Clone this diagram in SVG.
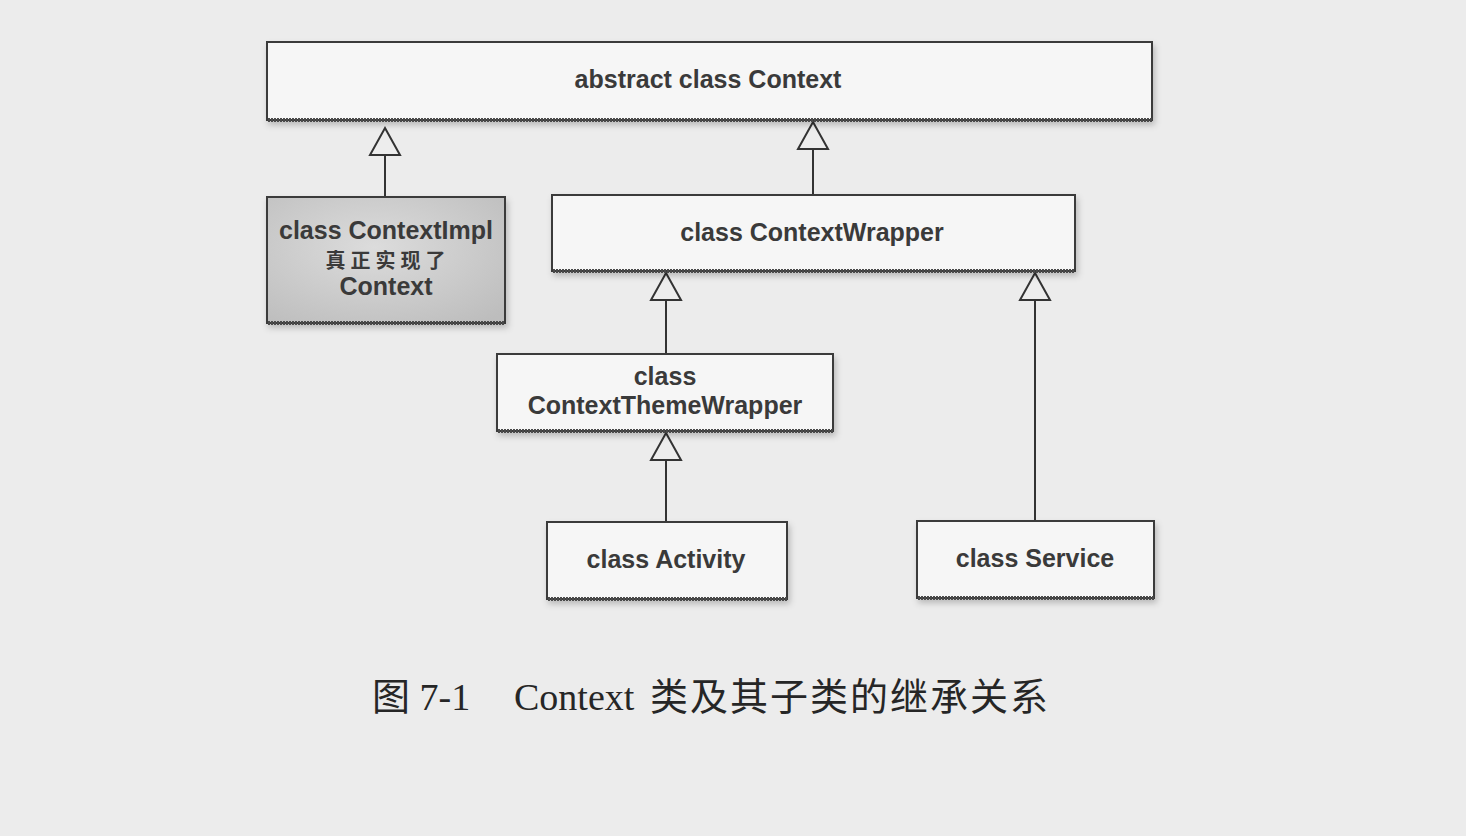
<svg xmlns="http://www.w3.org/2000/svg" width="1466" height="836" viewBox="0 0 1466 836">
  <defs>
    <style>
      .box { fill: #f6f6f6; stroke: #3a3a3a; stroke-width: 2; filter: url(#sh); }
      .impl { fill: url(#implg); stroke: #3a3a3a; stroke-width: 2; filter: url(#sh); }
      .base { stroke: #4a4a4a; stroke-width: 4; stroke-dasharray: 2 1; }
      .lbl { font-family: "Liberation Sans", Arial, "Noto Sans CJK SC", sans-serif; font-weight: bold; font-size: 25px; fill: #3a3a3a; text-anchor: middle; }
      .cjk { font-family: "Noto Sans CJK SC", sans-serif; font-weight: bold; font-size: 20px; fill: #3a3a3a; text-anchor: middle; letter-spacing: 5px; }
      .edge { stroke: #333; stroke-width: 2; fill: none; }
      .tri { fill: #ededed; stroke: #333; stroke-width: 2; stroke-linejoin: miter; }
      .cap { font-family: "Liberation Serif", "Times New Roman", "Noto Sans CJK SC", serif; font-size: 38px; fill: #262626; }
      .capc { font-family: "Noto Sans CJK SC", sans-serif; font-size: 38px; fill: #262626; letter-spacing: 2px; }
    </style>
    <filter id="sh" x="-5%" y="-10%" width="112%" height="130%">
      <feDropShadow dx="2" dy="4" stdDeviation="3" flood-color="#000" flood-opacity="0.22"/>
    </filter>
    <radialGradient id="implg" cx="0.45" cy="0.4" r="0.75">
      <stop offset="0" stop-color="#dcdcdc"/>
      <stop offset="1" stop-color="#bdbdbd"/>
    </radialGradient>
    <polygon id="tri" points="0,0 15,27 -15,27"/>
  </defs>
  <rect width="1466" height="836" fill="#ececec"/>

  <g id="connectors">
    <path class="edge" d="M385,197 L385,155"/>
    <use href="#tri" class="tri" x="385" y="128"/>
    <path class="edge" d="M813,195 L813,149"/>
    <use href="#tri" class="tri" x="813" y="122"/>
    <path class="edge" d="M666,354 L666,299"/>
    <use href="#tri" class="tri" x="666" y="273"/>
    <path class="edge" d="M666,522 L666,459"/>
    <use href="#tri" class="tri" x="666" y="433"/>
    <path class="edge" d="M1035,521 L1035,299"/>
    <use href="#tri" class="tri" x="1035" y="273"/>
  </g>

  <g id="context">
    <rect class="box" x="267" y="42" width="885" height="78"/>
    <line class="base" x1="268" y1="120" x2="1152" y2="120"/>
    <text class="lbl" x="708" y="88">abstract class Context</text>
  </g>

  <g id="contextimpl">
    <rect class="impl" x="267" y="197" width="238" height="126"/>
    <line class="base" x1="268" y1="323" x2="505" y2="323"/>
    <text class="lbl" x="386" y="239">class ContextImpl</text>
    <text class="cjk" x="388" y="268">真正实现了</text>
    <text class="lbl" x="386" y="295">Context</text>
  </g>

  <g id="contextwrapper">
    <rect class="box" x="552" y="195" width="523" height="76"/>
    <line class="base" x1="553" y1="271" x2="1075" y2="271"/>
    <text class="lbl" x="812" y="241">class ContextWrapper</text>
  </g>

  <g id="contextthemewrapper">
    <rect class="box" x="497" y="354" width="336" height="77"/>
    <line class="base" x1="498" y1="431" x2="833" y2="431"/>
    <text class="lbl" x="665" y="385">class</text>
    <text class="lbl" x="665" y="414">ContextThemeWrapper</text>
  </g>

  <g id="activity">
    <rect class="box" x="547" y="522" width="240" height="77"/>
    <line class="base" x1="548" y1="599" x2="787" y2="599"/>
    <text class="lbl" x="666" y="568">class Activity</text>
  </g>

  <g id="service">
    <rect class="box" x="917" y="521" width="237" height="77"/>
    <line class="base" x1="918" y1="598" x2="1154" y2="598"/>
    <text class="lbl" x="1035" y="567">class Service</text>
  </g>

  <g id="caption">
    <text class="cap" x="372" y="710">图 7-1</text>
    <text class="cap" x="514" y="710">Context</text>
    <text class="capc" x="650" y="710">类及其子类的继承关系</text>
  </g>
</svg>
